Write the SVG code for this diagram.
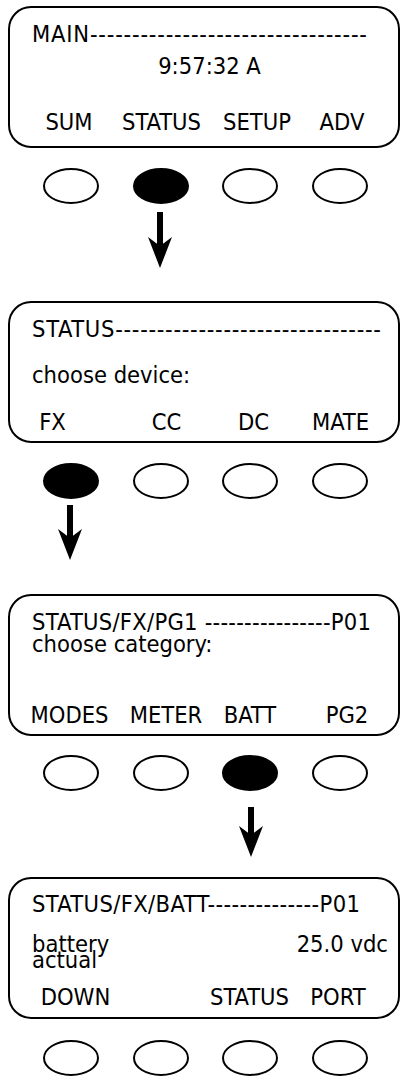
<svg xmlns="http://www.w3.org/2000/svg" width="400" height="1076" viewBox="0 0 400 1076">
<style>
.box{fill:#fff;stroke:#000;stroke-width:2}
.btn{fill:#fff;stroke:#000;stroke-width:2}
.on{fill:#000;stroke:#000;stroke-width:2}
text{font-family:"DejaVu Sans Condensed","DejaVu Sans",sans-serif;font-stretch:condensed;font-size:23.5px;fill:#000}
.m{text-anchor:middle}
.e{text-anchor:end}
.arrow{stroke:#000;stroke-width:6;fill:none;marker-end:url(#ah)}
</style>
<defs>
<marker id="ah" markerUnits="userSpaceOnUse" viewBox="0 0 31 24" markerWidth="31" markerHeight="24" refX="11" refY="12" orient="auto">
<polygon points="0,0 9,12 0,24 31,12" fill="#000"/>
</marker>
</defs>
<rect width="400" height="1076" fill="#fff"/>

<g id="screen-main">
<rect class="box" x="9" y="7" width="390" height="140" rx="22"/>
<text x="32" y="42" textLength="335" lengthAdjust="spacing">MAIN---------------------------------</text>
<text class="m" x="209.5" y="74">9:57:32 A</text>
<text class="m" x="69" y="130">SUM</text>
<text class="m" x="161.5" y="130">STATUS</text>
<text class="m" x="257" y="130">SETUP</text>
<text class="m" x="342" y="130">ADV</text>
</g>
<g id="buttons-main">
<ellipse class="btn" cx="71" cy="186" rx="27" ry="17"/>
<ellipse class="on" cx="161" cy="186" rx="27" ry="17"/>
<ellipse class="btn" cx="250" cy="186" rx="27" ry="17"/>
<ellipse class="btn" cx="340" cy="186" rx="27" ry="17"/>
</g>

<g id="screen-status">
<rect class="box" x="9" y="302" width="390" height="140" rx="22"/>
<text x="32" y="337" textLength="349" lengthAdjust="spacing">STATUS--------------------------------</text>
<text x="32" y="383">choose device:</text>
<text class="m" x="52.5" y="430">FX</text>
<text class="m" x="166.5" y="430">CC</text>
<text class="m" x="253.5" y="430">DC</text>
<text class="m" x="340.5" y="430">MATE</text>
</g>
<g id="buttons-status">
<ellipse class="on" cx="71" cy="481" rx="27" ry="17"/>
<ellipse class="btn" cx="161" cy="481" rx="27" ry="17"/>
<ellipse class="btn" cx="250" cy="481" rx="27" ry="17"/>
<ellipse class="btn" cx="340" cy="481" rx="27" ry="17"/>
</g>

<g id="screen-fx-pg1">
<rect class="box" x="9" y="595" width="390" height="140" rx="22"/>
<text x="32" y="630" textLength="339" lengthAdjust="spacing">STATUS/FX/PG1 ----------------P01</text>
<text x="32" y="652">choose category:</text>
<text class="m" x="69.5" y="723">MODES</text>
<text class="m" x="166" y="723">METER</text>
<text class="m" x="250" y="723">BATT</text>
<text class="m" x="347" y="723">PG2</text>
</g>
<g id="buttons-fx-pg1">
<ellipse class="btn" cx="71" cy="773" rx="27" ry="17"/>
<ellipse class="btn" cx="161" cy="773" rx="27" ry="17"/>
<ellipse class="on" cx="250" cy="773" rx="27" ry="17"/>
<ellipse class="btn" cx="340" cy="773" rx="27" ry="17"/>
</g>

<g id="screen-fx-batt">
<rect class="box" x="9" y="878" width="390" height="140" rx="22"/>
<text x="32" y="912" textLength="328" lengthAdjust="spacing">STATUS/FX/BATT--------------P01</text>
<text x="32" y="952">battery</text>
<text x="32" y="968">actual</text>
<text class="e" x="388" y="952">25.0 vdc</text>
<text class="m" x="75.5" y="1005">DOWN</text>
<text class="m" x="249.5" y="1005">STATUS</text>
<text class="m" x="338" y="1005">PORT</text>
</g>
<g id="buttons-fx-batt">
<ellipse class="btn" cx="71" cy="1058" rx="27" ry="17"/>
<ellipse class="btn" cx="161" cy="1058" rx="27" ry="17"/>
<ellipse class="btn" cx="250" cy="1058" rx="27" ry="17"/>
<ellipse class="btn" cx="340" cy="1058" rx="27" ry="17"/>
</g>

<g id="connectors">
<line class="arrow" x1="160" y1="212" x2="160" y2="248"/>
<line class="arrow" x1="70" y1="505" x2="70" y2="540"/>
<line class="arrow" x1="251" y1="807" x2="251" y2="837"/>
</g>
</svg>
